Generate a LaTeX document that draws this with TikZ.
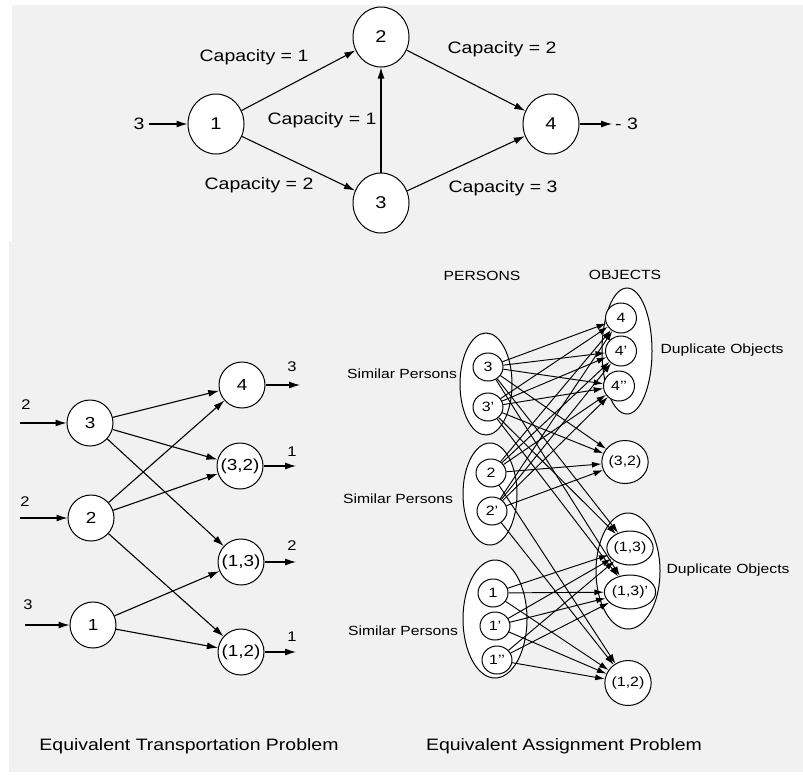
\documentclass[tikz,border=0pt]{standalone}
\usepackage{fontspec}
\setmainfont{Liberation Sans}[FakeStretch=1.18]
\usetikzlibrary{shapes.geometric,arrows.meta}
\definecolor{panel}{HTML}{F1F1F1}
\newcommand\setfs[1]{\fontsize{#1}{#1}\selectfont}
% straight prime mark (avoids the curly quote ligature)
\newcommand\sq{\char"27\relax}
\tikzset{
  bignode/.style={ellipse,draw,fill=white,line width=1pt,minimum width=56pt,minimum height=60pt,inner sep=0pt,font=\setfs{17}},
  tnode/.style={circle,draw,fill=white,line width=1pt,minimum size=46pt,inner sep=0pt,font=\setfs{16}},
  pnode/.style={ellipse,draw,fill=white,line width=1pt,minimum width=30pt,minimum height=28pt,inner sep=0pt,font=\setfs{13.5}},
  onode/.style={ellipse,draw,fill=white,line width=1pt,inner sep=0pt,font=\setfs{13.5}},
  grp/.style={ellipse,draw,fill=white,line width=1pt,inner sep=0pt},
  caplbl/.style={font=\setfs{16.5},inner sep=0pt},
  smalllbl/.style={font=\setfs{13.3},inner sep=0pt},
  sidelbl/.style={font=\setfs{14},inner sep=0pt},
  arr/.style={-{Latex[length=11pt,width=7pt]},line width=1.1pt},
  sarr/.style={-{Latex[length=9.5pt,width=6pt]},line width=0.95pt},
}
\begin{document}
\begin{tikzpicture}[x=1pt,y=-1pt]
% canvas and the two grey panels
\fill[white] (0,0) rectangle (803,774);
\fill[panel] (12,5) rectangle (803,241);
\fill[panel] (9,241) rectangle (803,772);
\useasboundingbox (0,0) rectangle (803,774);

% ---------- network with capacities ----------
\node[bignode] (t1) at (216,124) {1};
\node[bignode] (t2) at (381,37) {2};
\node[bignode] (t3) at (381,203) {3};
\node[bignode] (t4) at (551,124) {4};
\node[caplbl,inner sep=4pt] (tin) at (139,124) {3};
\node[caplbl,anchor=west,inner sep=3pt] (tout) at (612,124) {- 3};
\draw[arr] (tin) -- (t1);
\draw[arr] (t4) -- (tout.west);
\draw[arr] (t1) -- (t2);
\draw[arr] (t1) -- (t3);
\draw[arr] (t3) -- (t2);
\draw[arr] (t2) -- (t4);
\draw[arr] (t3) -- (t4);
\node[caplbl] (c12) at (254,57) {Capacity = 1};
\node[caplbl] (c24) at (502,49) {Capacity = 2};
\node[caplbl] (c32) at (322,120) {Capacity = 1};
\node[caplbl] (c13) at (259,185) {Capacity = 2};
\node[caplbl] (c34) at (503,188) {Capacity = 3};

% ---------- transportation problem ----------
\node[tnode] (L3) at (90,423) {3};
\node[tnode] (L2) at (91,518) {2};
\node[tnode] (L1) at (93,625) {1};
\node[tnode] (R4) at (242,385) {4};
\node[tnode] (R32) at (240,466) {(3,2)};
\node[tnode] (R13) at (241,562) {(1,3)};
\node[tnode] (R12) at (241,652) {(1,2)};
\coordinate (s3) at (20,423);
\coordinate (s2) at (20,518);
\coordinate (s1) at (25,625);
\draw[arr] (s3) -- (L3);
\draw[arr] (s2) -- (L2);
\draw[arr] (s1) -- (L1);
\node[sidelbl] (a3) at (26,405) {2};
\node[sidelbl] (a2) at (25,502) {2};
\node[sidelbl] (a1) at (28,605) {3};
\coordinate (e4) at (300,385);
\coordinate (e32) at (296,466);
\coordinate (e13) at (296,562);
\coordinate (e12) at (296,652);
\draw[arr] (R4) -- (e4);
\draw[arr] (R32) -- (e32);
\draw[arr] (R13) -- (e13);
\draw[arr] (R12) -- (e12);
\node[sidelbl] (b4) at (292,367) {3};
\node[sidelbl] (b32) at (292,452) {1};
\node[sidelbl] (b13) at (292,546) {2};
\node[sidelbl] (b12) at (292,637) {1};
\draw[arr] (L3) -- (R4);
\draw[arr] (L3) -- (R32);
\draw[arr] (L3) -- (R13);
\draw[arr] (L2) -- (R4);
\draw[arr] (L2) -- (R32);
\draw[arr] (L2) -- (R12);
\draw[arr] (L1) -- (R13);
\draw[arr] (L1) -- (R12);
\node[caplbl] (capT) at (189,746) {Equivalent Transportation Problem};

% ---------- assignment problem ----------
\node[smalllbl] (hp) at (482,276) {PERSONS};
\node[smalllbl] (ho) at (625,275) {OBJECTS};
\node[grp,minimum width=52pt,minimum height=102pt] (gp3) at (486,384) {};
\node[grp,minimum width=54pt,minimum height=102pt] (gp2) at (490,494) {};
\node[grp,minimum width=64pt,minimum height=118pt] (gp1) at (495,619) {};
\node[grp,minimum width=50pt,minimum height=126pt] (go4) at (627,351) {};
\node[grp,minimum width=64pt,minimum height=116pt] (go13) at (628,571) {};
\node[pnode] (p3) at (488,367) {3};
\node[pnode] (p3b) at (488,407) {3\sq};
\node[pnode] (p2) at (491,473) {2};
\node[pnode] (p2b) at (492,511) {2\sq};
\node[pnode] (p1) at (493,593) {1};
\node[pnode] (p1b) at (495,626) {1\sq};
\node[pnode] (p1c) at (497,660) {1\sq\sq};
\node[onode,minimum width=31pt,minimum height=30pt] (o4) at (621,318) {4};
\node[onode,minimum width=31pt,minimum height=30pt] (o4b) at (621,351) {4\sq};
\node[onode,minimum width=31pt,minimum height=30pt] (o4c) at (619,386) {4\sq\sq};
\node[onode,minimum width=45pt,minimum height=43pt] (o32) at (625,462) {(3,2)};
\node[onode,minimum width=37pt,minimum height=34pt] (o13) at (630,548) {(1,3)};
\node[onode,minimum width=37pt,minimum height=34pt] (o13b) at (630,592) {(1,3)\sq};
\node[onode,minimum width=45pt,minimum height=45pt] (o12) at (628,683) {(1,2)};
\foreach \p in {p3,p3b}
  \foreach \o in {o4,o4b,o4c,o32,o13,o13b}
    \draw[sarr] (\p) -- (\o);
\foreach \p in {p2,p2b}
  \foreach \o in {o4,o4b,o4c,o32,o12}
    \draw[sarr] (\p) -- (\o);
\foreach \p in {p1,p1b,p1c}
  \foreach \o in {o13,o13b,o12}
    \draw[sarr] (\p) -- (\o);
\node[smalllbl] (sp3) at (402,374) {Similar Persons};
\node[smalllbl] (sp2) at (398,499) {Similar Persons};
\node[smalllbl] (sp1) at (403,631) {Similar Persons};
\node[smalllbl] (do4) at (722,350) {Duplicate Objects};
\node[smalllbl] (do13) at (728,570) {Duplicate Objects};
\node[caplbl] (capA) at (564,746) {Equivalent Assignment Problem};
\end{tikzpicture}
\end{document}
